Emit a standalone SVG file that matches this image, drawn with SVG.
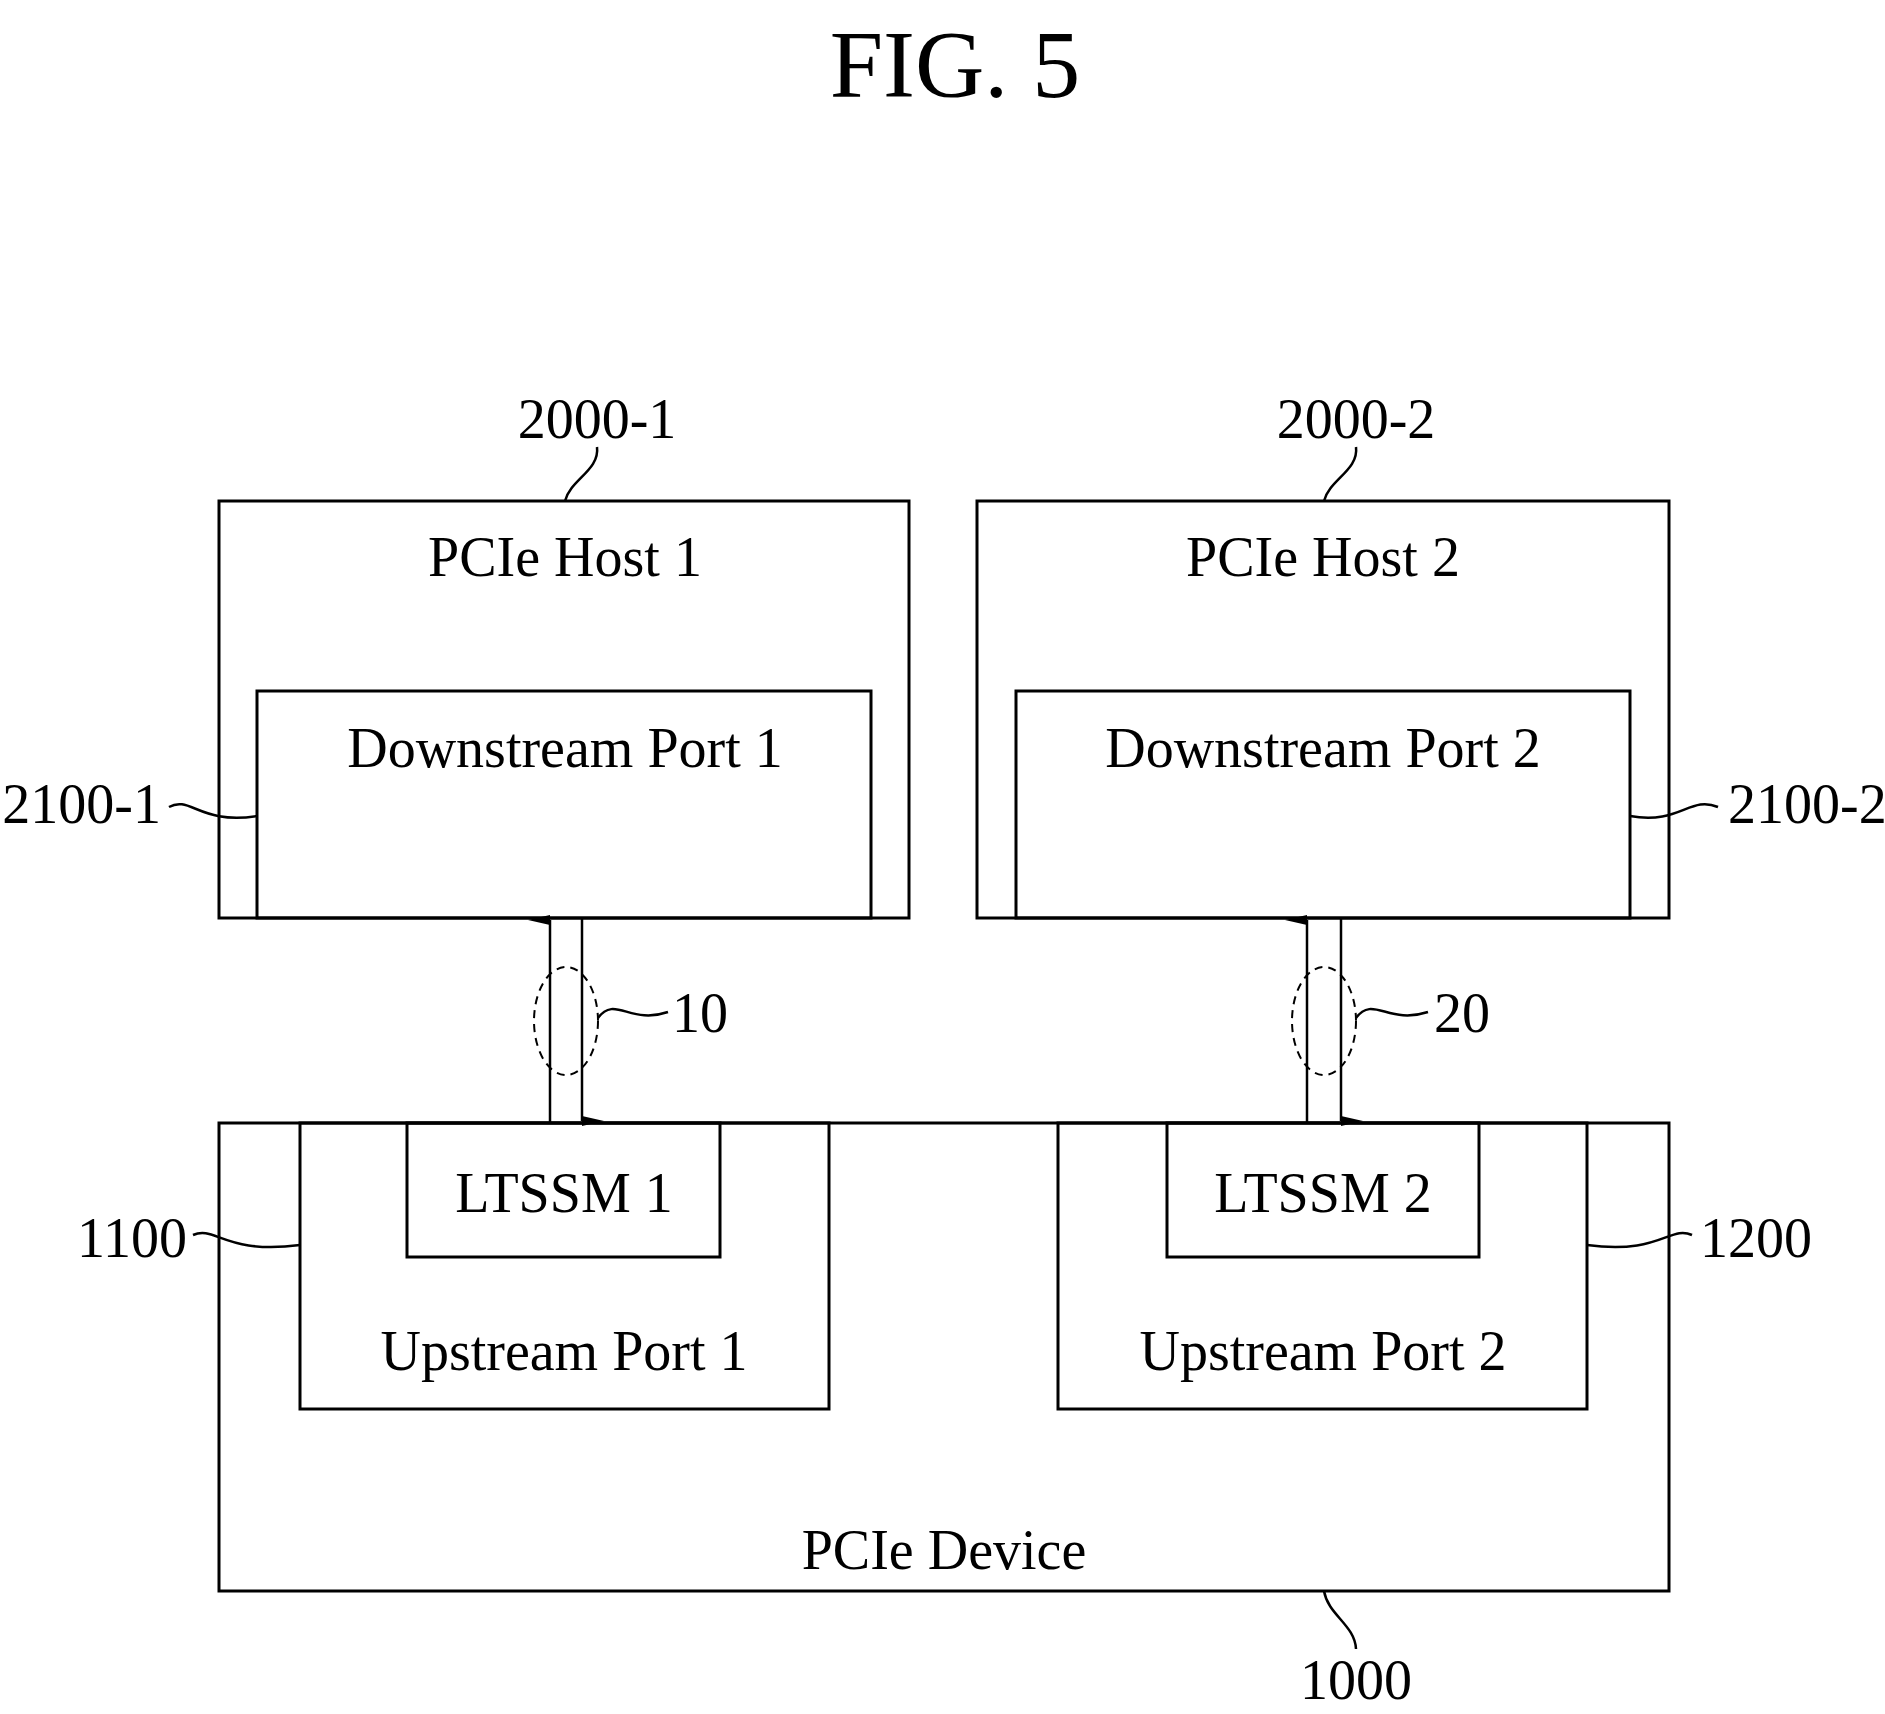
<svg xmlns="http://www.w3.org/2000/svg" width="1885" height="1714" viewBox="0 0 1885 1714">
<style>
rect{fill:none;stroke:#000;stroke-width:3}
text{font-family:"Liberation Serif",serif;font-size:56px;fill:#000}
.c{text-anchor:middle}
.l{fill:none;stroke:#000;stroke-width:2.5}
.d{fill:none;stroke:#000;stroke-width:2;stroke-dasharray:8,6}
</style>
<defs><marker id="a" markerWidth="10" markerHeight="22" refX="5" refY="22" orient="auto-start-reverse" markerUnits="userSpaceOnUse" viewBox="0 0 10 22"><path d="M0,22 L5,0 L10,22 Z" fill="#000"/></marker></defs>
<rect x="0" y="0" width="1885" height="1714" style="fill:#fff;stroke:none"/>
<text class="c" x="955" y="97" style="font-size:96px">FIG. 5</text>
<g id="host1"><rect x="219" y="501" width="690" height="417"/><text class="c" x="565" y="576">PCIe Host 1</text></g>
<g id="ds1"><rect x="257" y="691" width="614" height="227"/><text class="c" x="565" y="767">Downstream Port 1</text></g>
<g id="host2"><rect x="977" y="501" width="692" height="417"/><text class="c" x="1323" y="576">PCIe Host 2</text></g>
<g id="ds2"><rect x="1016" y="691" width="614" height="227"/><text class="c" x="1323" y="767">Downstream Port 2</text></g>
<g id="device"><rect x="219" y="1123" width="1450" height="468"/><text class="c" x="944" y="1569">PCIe Device</text></g>
<g id="up1"><rect x="300" y="1123" width="529" height="286"/><text class="c" x="564" y="1370">Upstream Port 1</text></g>
<g id="up2"><rect x="1058" y="1123" width="529" height="286"/><text class="c" x="1323" y="1370">Upstream Port 2</text></g>
<g id="ltssm1"><rect x="407" y="1123" width="313" height="134"/><text class="c" x="564" y="1212">LTSSM 1</text></g>
<g id="ltssm2"><rect x="1167" y="1123" width="312" height="134"/><text class="c" x="1323" y="1212">LTSSM 2</text></g>
<g id="labels">
<text class="c" x="597" y="438">2000-1</text>
<text class="c" x="1356" y="438">2000-2</text>
<text x="161" y="823" text-anchor="end">2100-1</text>
<text x="1728" y="823">2100-2</text>
<text x="187" y="1257" text-anchor="end">1100</text>
<text x="1700" y="1257">1200</text>
<text class="c" x="1356" y="1699">1000</text>
<text x="672" y="1032">10</text>
<text x="1434" y="1032">20</text>
</g>
<g id="connectors">
<line class="l" x1="550" y1="1123" x2="550" y2="920" marker-end="url(#a)"/>
<line class="l" x1="582" y1="918" x2="582" y2="1121" marker-end="url(#a)"/>
<line class="l" x1="1307" y1="1123" x2="1307" y2="920" marker-end="url(#a)"/>
<line class="l" x1="1341" y1="918" x2="1341" y2="1121" marker-end="url(#a)"/>
<ellipse class="d" cx="566" cy="1021" rx="32" ry="54"/>
<ellipse class="d" cx="1324" cy="1021" rx="32" ry="54"/>
<path class="l" d="M598,1018 C615,995 630,1025 668,1012"/>
<path class="l" d="M1356,1018 C1373,995 1388,1025 1428,1012"/>
<path class="l" d="M597,447 C600,470 570,480 565,501"/>
<path class="l" d="M1356,447 C1359,470 1329,480 1324,501"/>
<path class="l" d="M169,807 C190,795 200,825 257,816"/>
<path class="l" d="M1630,816 C1680,825 1690,795 1718,807"/>
<path class="l" d="M193,1235 C215,1225 225,1255 300,1245"/>
<path class="l" d="M1587,1245 C1660,1255 1670,1225 1692,1235"/>
<path class="l" d="M1324,1591 C1328,1615 1355,1625 1356,1649"/>
</g>
</svg>
